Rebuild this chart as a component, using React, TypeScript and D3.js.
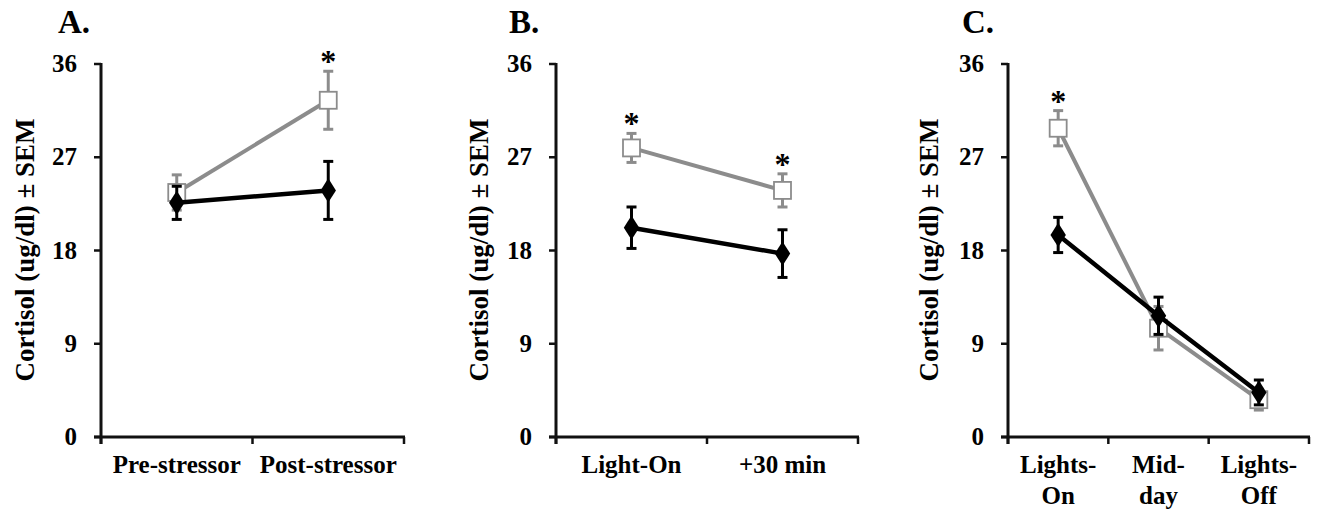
import React from 'react';
import * as d3 from 'd3';

// Panel A
const catsA = ['Pre-stressor', 'Post-stressor'];
const openA = [23.6, 32.5];
const openErrA = [1.7, 2.8];
const filledA = [22.6, 23.8];
const filledErrA = [1.6, 2.8];
const starsA = [false, true];

// Panel B
const catsB = ['Light-On', '+30 min'];
const openB = [27.9, 23.8];
const openErrB = [1.4, 1.6];
const filledB = [20.2, 17.7];
const filledErrB = [2.0, 2.3];
const starsB = [true, true];

// Panel C
const catsC = ['Lights-|On', 'Mid-|day', 'Lights-|Off'];
const openC = [29.8, 10.5, 3.6];
const openErrC = [1.7, 2.1, 1.0];
const filledC = [19.5, 11.7, 4.3];
const filledErrC = [1.7, 1.8, 1.2];
const starsC = [true, false, false];

const yTicks = [0, 9, 18, 27, 36];
const yTitle = 'Cortisol (ug/dl) \u00b1 SEM';

const FONT = '"Liberation Serif", "Times New Roman", serif';
const GRAY = '#8c8c8c';

type PanelProps = {
  letter: string;
  cats: string[];
  open: number[];
  openErr: number[];
  filled: number[];
  filledErr: number[];
  stars: boolean[];
  x0: number;
  x1: number;
  letterX: number;
  titleX: number;
};

const Panel = ({ letter, cats, open, openErr, filled, filledErr, stars, x0, x1, letterX, titleX }: PanelProps) => {
  const y = d3.scaleLinear().domain([0, 36]).range([437, 64]);
  const x = d3.scaleBand().domain(cats).range([x0, x1]).padding(0);
  const cx = (c: string) => (x(c) as number) + x.bandwidth() / 2;

  const line = d3.line<number>()
    .x((_, i) => cx(cats[i]))
    .y(d => y(d));

  const edges = cats.map(c => x(c) as number).concat([x1]);
  const diamond = d3.symbol().type(d3.symbolDiamond).size(170)();

  return (
    <g>
      <text x={letterX} y={33} fontFamily={FONT} fontWeight="bold" fontSize={33}>{letter}</text>
      <text
        transform={`translate(${titleX},${250}) rotate(-90)`}
        textAnchor="middle"
        fontFamily={FONT}
        fontWeight="bold"
        fontSize={27}
      >{yTitle}</text>

      {/* y axis */}
      <line x1={x0} x2={x0} y1={y(36) - 1} y2={y(0) + 7} stroke="#111" strokeWidth={3} />
      {yTicks.map(t => (
        <g key={t}>
          <line x1={x0 - 7} x2={x0} y1={y(t)} y2={y(t)} stroke="#111" strokeWidth={2.5} />
          <text x={x0 - 24} y={y(t) + 8} textAnchor="end" fontFamily={FONT} fontWeight="bold" fontSize={25}>{t}</text>
        </g>
      ))}

      {/* x axis */}
      <line x1={x0 - 7} x2={x1 + 1} y1={y(0)} y2={y(0)} stroke="#111" strokeWidth={3} />
      {edges.map((e, i) => (
        <line key={i} x1={e} x2={e} y1={y(0)} y2={y(0) + 7} stroke="#111" strokeWidth={2.5} />
      ))}
      {cats.map(c => {
        const parts = c.split('|');
        return (
          <text key={c} x={cx(c)} y={473} textAnchor="middle" fontFamily={FONT} fontWeight="bold" fontSize={25}>
            {parts.map((p, i) => (
              <tspan key={i} x={cx(c)} dy={i === 0 ? 0 : 31}>{p}</tspan>
            ))}
          </text>
        );
      })}

      {/* open (gray) series */}
      <path d={line(open) as string} fill="none" stroke={GRAY} strokeWidth={4} />
      {open.map((v, i) => (
        <g key={i} stroke={GRAY} strokeWidth={3}>
          <line x1={cx(cats[i])} x2={cx(cats[i])} y1={y(v - openErr[i])} y2={y(v + openErr[i])} />
          <line x1={cx(cats[i]) - 5} x2={cx(cats[i]) + 5} y1={y(v + openErr[i])} y2={y(v + openErr[i])} />
          <line x1={cx(cats[i]) - 5} x2={cx(cats[i]) + 5} y1={y(v - openErr[i])} y2={y(v - openErr[i])} />
        </g>
      ))}
      {open.map((v, i) => (
        <rect key={i} x={cx(cats[i]) - 8.5} y={y(v) - 8.5} width={17} height={17} fill="#fff" stroke={GRAY} strokeWidth={1.8} />
      ))}

      {/* filled (black) series */}
      <path d={line(filled) as string} fill="none" stroke="#000" strokeWidth={4.5} />
      {filled.map((v, i) => (
        <g key={i} stroke="#000" strokeWidth={3}>
          <line x1={cx(cats[i])} x2={cx(cats[i])} y1={y(v - filledErr[i])} y2={y(v + filledErr[i])} />
          <line x1={cx(cats[i]) - 5} x2={cx(cats[i]) + 5} y1={y(v + filledErr[i])} y2={y(v + filledErr[i])} />
          <line x1={cx(cats[i]) - 5} x2={cx(cats[i]) + 5} y1={y(v - filledErr[i])} y2={y(v - filledErr[i])} />
        </g>
      ))}
      {filled.map((v, i) => (
        <path key={i} d={diamond as string} transform={`translate(${cx(cats[i])},${y(v)}) scale(1.1,1)`} fill="#000" />
      ))}

      {/* significance */}
      {stars.map((s, i) => s ? (
        <text key={i} x={cx(cats[i])} y={y(open[i] + openErr[i]) + 1} textAnchor="middle" fontFamily={FONT} fontWeight="bold" fontSize={32}>*</text>
      ) : null)}
    </g>
  );
};

export default function App() {
  return (
    <svg width={1323} height={512} style={{ position: 'absolute', left: 0, top: 0, background: '#fff' }}>
      <Panel letter="A." cats={catsA} open={openA} openErr={openErrA} filled={filledA} filledErr={filledErrA}
        stars={starsA} x0={101} x1={404} letterX={58} titleX={34} />
      <Panel letter="B." cats={catsB} open={openB} openErr={openErrB} filled={filledB} filledErr={filledErrB}
        stars={starsB} x0={556} x1={858} letterX={509} titleX={488} />
      <Panel letter="C." cats={catsC} open={openC} openErr={openErrC} filled={filledC} filledErr={filledErrC}
        stars={starsC} x0={1008} x1={1309} letterX={962} titleX={938} />
    </svg>
  );
}
